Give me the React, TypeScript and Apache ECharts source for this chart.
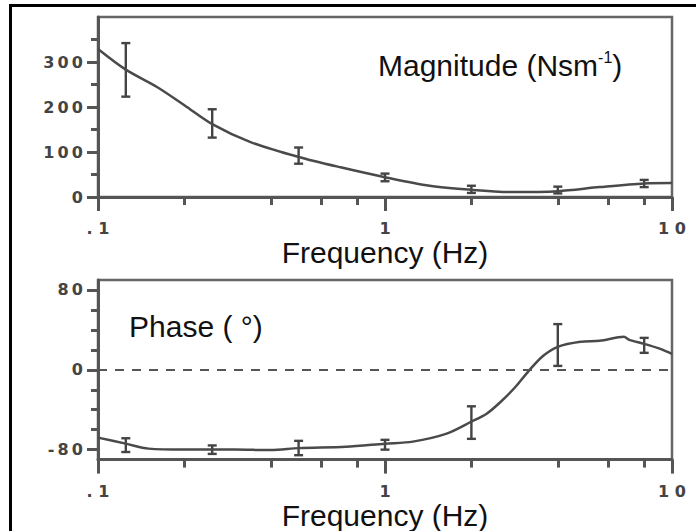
import React, { useEffect, useRef } from 'react';
import * as echarts from 'echarts';

// ---- Data ----
// Magnitude (N s m^-1) fitted curve
const magCurveFreq = [0.1, 0.125, 0.16, 0.2, 0.25, 0.34, 0.5, 0.7, 1, 1.43, 2, 2.8, 4, 5.6, 8, 10];
const magCurveVal = [329, 283, 245, 204, 162, 122, 89, 66, 44, 25, 16, 11, 13, 22, 30, 31];
// Magnitude error bars
const errFreq = [0.125, 0.25, 0.5, 1, 2, 4, 8];
const magLow = [223, 132, 74, 35, 9, 8, 22];
const magHigh = [342, 195, 110, 52, 25, 23, 38];
// Phase (deg) fitted curve
const phaseCurveFreq = [0.1, 0.125, 0.15, 0.2, 0.3, 0.4, 0.5, 0.73, 1, 1.25, 1.64, 2, 2.26, 2.51, 2.83, 3.17, 3.56, 4, 4.8, 5.6, 6.8, 7.1, 8, 9.1, 10];
const phaseCurveVal = [-68, -74, -79, -80, -80, -80.5, -78.5, -77, -74, -72, -64, -52, -44, -33, -18, -1, 14, 23, 28, 29, 33, 30, 26, 21, 16];
// Phase error bars
const phaseLow = [-82.4, -84.3, -85.6, -80, -69.2, 3.9, 17];
const phaseHigh = [-68.6, -75.8, -71.2, -70.2, -36.6, 45.8, 32];

// Axis ticks / labels
const freqMajor = [0.1, 1, 10];
const freqMinor = [0.2, 0.4, 0.6, 0.8, 2, 4, 6, 8];
const freqLabels: Record<string, string> = { '0.1': '. 1', '1': '1', '10': '1 0' };
const magMajor = [0, 100, 200, 300];
const magMinor = [50, 150, 250, 350];
const phaseMajor = [-80, 0, 80];
const phaseMinor = [-60, -40, -20, 20, 40, 60];

const AXIS_COLOR = '#555';
const LABEL_COLOR = '#444';
const LINE_COLOR = '#4a4a4a';
const LABEL_FONT = 'DejaVu Sans';
const TITLE_FONT = 'Liberation Sans';

function xMain(gridIndex: number, nameGap: number, labelMargin: number) {
  return {
    gridIndex,
    type: 'log',
    logBase: 10,
    min: 0.1,
    max: 10,
    axisLine: { show: true, onZero: false, lineStyle: { color: AXIS_COLOR, width: 3 } },
    axisTick: { show: true, customValues: freqMajor, length: 14, lineStyle: { color: AXIS_COLOR, width: 3 } },
    axisLabel: {
      show: true,
      customValues: freqMajor,
      margin: labelMargin,
      fontSize: 16,
      lineHeight: 13,
      fontWeight: 'bold',
      fontFamily: LABEL_FONT,
      color: LABEL_COLOR,
      formatter: (v: number) => freqLabels[String(v)] ?? String(v),
    },
    splitLine: { show: false },
    minorTick: { show: false },
    name: 'Frequency (Hz)',
    nameLocation: 'middle',
    nameGap,
    nameTextStyle: { fontSize: 30, lineHeight: 22, color: '#111', fontFamily: TITLE_FONT },
  };
}
function xMinor(gridIndex: number) {
  return {
    gridIndex,
    type: 'log',
    logBase: 10,
    min: 0.1,
    max: 10,
    position: 'bottom',
    axisLine: { show: false, onZero: false },
    axisTick: { show: true, customValues: freqMinor, length: 8, lineStyle: { color: AXIS_COLOR, width: 3 } },
    axisLabel: { show: false },
    splitLine: { show: false },
  };
}
const yLabelFmt = (v: number) => String(v).split('').join('\u2009');
function yMain(gridIndex: number, min: number, max: number, ticks: number[]) {
  return {
    gridIndex,
    type: 'value',
    min,
    max,
    axisLine: { show: true, onZero: false, lineStyle: { color: AXIS_COLOR, width: 3 } },
    axisTick: { show: true, customValues: ticks, length: 11, lineStyle: { color: AXIS_COLOR, width: 3 } },
    axisLabel: {
      show: true,
      customValues: ticks,
      margin: 15,
      fontSize: 16,
      fontWeight: 'bold',
      fontFamily: LABEL_FONT,
      color: LABEL_COLOR,
      formatter: yLabelFmt,
    },
    splitLine: { show: false },
  };
}
function yMinor(gridIndex: number, min: number, max: number, ticks: number[]) {
  return {
    gridIndex,
    type: 'value',
    min,
    max,
    position: 'left',
    axisLine: { show: false, onZero: false },
    axisTick: { show: true, customValues: ticks, length: 7, lineStyle: { color: AXIS_COLOR, width: 3 } },
    axisLabel: { show: false },
    splitLine: { show: false },
  };
}

const renderErr = (_params: any, api: any) => {
  const f = api.value(0);
  const lo = api.value(1);
  const hi = api.value(2);
  const p1 = api.coord([f, hi]);
  const p2 = api.coord([f, lo]);
  const w = 4.5;
  const style = { stroke: '#444', lineWidth: 2.4 };
  return {
    type: 'group',
    children: [
      { type: 'line', shape: { x1: p1[0], y1: p1[1], x2: p2[0], y2: p2[1] }, style },
      { type: 'line', shape: { x1: p1[0] - w, y1: p1[1], x2: p1[0] + w, y2: p1[1] }, style },
      { type: 'line', shape: { x1: p2[0] - w, y1: p2[1], x2: p2[0] + w, y2: p2[1] }, style },
    ],
  };
};

export default function App() {
  const ref = useRef<HTMLDivElement>(null);
  useEffect(() => {
    const chart = echarts.init(ref.current!, null, { renderer: 'svg' });
    const option: any = {
      animation: false,
      backgroundColor: '#fff',
      grid: [
        { left: 98, top: 17, width: 574, height: 180, show: true, borderColor: '#666', borderWidth: 2.5, backgroundColor: 'transparent' },
        { left: 98, top: 280, width: 574, height: 183, show: true, borderColor: '#666', borderWidth: 2.5, backgroundColor: 'transparent' },
      ],
      xAxis: [xMain(0, 44, 25), xMinor(0), xMain(1, 40, 25), xMinor(1)],
      yAxis: [
        yMain(0, 0, 400, magMajor),
        yMinor(0, 0, 400, magMinor),
        yMain(1, -90, 90, phaseMajor),
        yMinor(1, -90, 90, phaseMinor),
      ],
      series: [
        {
          type: 'line',
          xAxisIndex: 0,
          yAxisIndex: 0,
          smooth: 0.3,
          symbol: 'none',
          lineStyle: { color: LINE_COLOR, width: 2.5 },
          data: magCurveFreq.map((f, i) => [f, magCurveVal[i]]),
        },
        {
          type: 'custom',
          xAxisIndex: 0,
          yAxisIndex: 0,
          renderItem: renderErr,
          encode: { x: 0, y: [1, 2] },
          data: errFreq.map((f, i) => [f, magLow[i], magHigh[i]]),
        },
        {
          type: 'line',
          xAxisIndex: 2,
          yAxisIndex: 2,
          smooth: 0.3,
          symbol: 'none',
          lineStyle: { color: LINE_COLOR, width: 2.5 },
          data: phaseCurveFreq.map((f, i) => [f, phaseCurveVal[i]]),
          markLine: {
            silent: true,
            symbol: 'none',
            label: { show: false },
            lineStyle: { color: '#555', width: 2, type: [9, 8] },
            data: [{ yAxis: 0 }],
          },
        },
        {
          type: 'custom',
          xAxisIndex: 2,
          yAxisIndex: 2,
          renderItem: renderErr,
          encode: { x: 0, y: [1, 2] },
          data: errFreq.map((f, i) => [f, phaseLow[i], phaseHigh[i]]),
        },
      ],
      graphic: [
        {
          type: 'rect',
          shape: { x: 10.5, y: 5.5, width: 720, height: 560 },
          style: { fill: 'none', stroke: '#000', lineWidth: 3 },
          silent: true,
        },
        {
          type: 'text',
          x: 378,
          y: 65,
          style: {
            text: '{m|Magnitude (Nsm}{s|-1}{m|)}',
            verticalAlign: 'middle',
            rich: {
              m: { fontSize: 30, fontFamily: TITLE_FONT, fill: '#111', lineHeight: 32 },
              s: { fontSize: 16, fontFamily: TITLE_FONT, fill: '#111', lineHeight: 16, verticalAlign: 'top' },
            },
          },
        },
        {
          type: 'text',
          x: 129,
          y: 326,
          style: {
            text: 'Phase ( °)',
            verticalAlign: 'middle',
            fontSize: 30,
            fontFamily: TITLE_FONT,
            fill: '#111',
          },
        },
      ],
    };
    chart.setOption(option);
    return () => chart.dispose();
  }, []);
  return (
    <div
      ref={ref}
      style={{ position: 'fixed', left: 0, top: 0, width: 696, height: 531, background: '#fff' }}
    />
  );
}
